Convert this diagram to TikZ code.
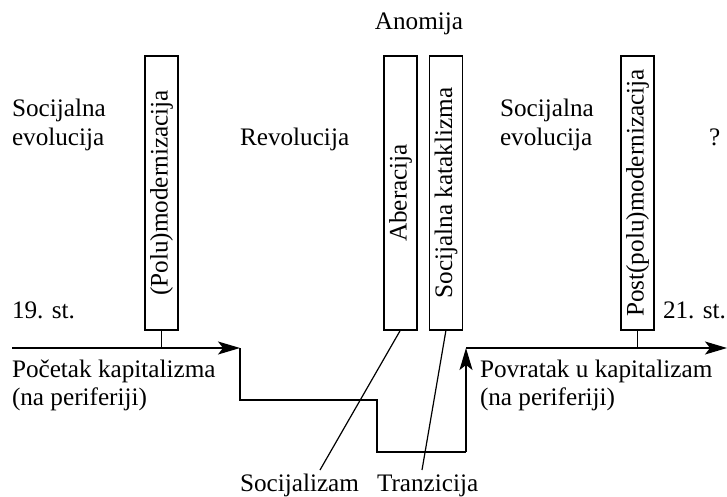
\documentclass[tikz,border=0pt]{standalone}
\usepackage{fontspec}
\setmainfont{Liberation Serif}
\usetikzlibrary{arrows.meta}
\begin{document}
\begin{tikzpicture}[x=0.5pt,y=-0.5pt,
  every node/.style={inner sep=0pt,outer sep=0pt,font=\fontsize{12.6}{14.5}\selectfont},
  lbl/.style={anchor=base west},
  vbox/.style={draw,line width=0.6pt,minimum width=16.5pt,minimum height=137pt},
  ln/.style={line width=0.6pt},
  arr/.style={line width=0.6pt,-{Stealth[length=11pt,width=6.5pt,inset=2.5pt]}}]
\useasboundingbox (0,0) rectangle (727,497);
% boxes
\node[vbox] (b1) at (161.5,193) {\rotatebox{90}{(Polu)modernizacija}};
\node[vbox] (b2) at (400.5,193) {\rotatebox{90}{Aberacija}};
\node[vbox] (b3) at (446,193) {\rotatebox{90}{Socijalna kataklizma}};
\node[vbox] (b4) at (637.5,193) {\rotatebox{90}{Post(polu)modernizacija}};
% labels
\node[anchor=base] (anom) at (419,30) {Anomija};
\node[lbl] (sev1a) at (12,117) {Socijalna};
\node[lbl] (sev1b) at (12,146) {evolucija};
\node[lbl] (rev) at (240,146) {Revolucija};
\node[lbl] (sev2a) at (500,117) {Socijalna};
\node[lbl] (sev2b) at (500,146) {evolucija};
\node[lbl] (q) at (709,146) {?};
\node[lbl] (st19) at (12,318) {19. st.};
\node[anchor=base east] (st21) at (726,318) {21. st.};
\node[lbl] (pk1) at (12,377) {Početak kapitalizma};
\node[lbl] (pk2) at (12,405) {(na periferiji)};
\node[lbl] (pu1) at (480,377) {Povratak u kapitalizam};
\node[lbl] (pu2) at (480,405) {(na periferiji)};
\node[lbl] (soc) at (240,491) {Socijalizam};
\node[lbl] (tra) at (377,491) {Tranzicija};
% axis coordinates
\coordinate (aL) at (12,348);
\coordinate (cL) at (240,348);
\coordinate (d1) at (240,400);
\coordinate (d2) at (377,400);
\coordinate (d3) at (377,452);
\coordinate (d4) at (466,452);
\coordinate (cR) at (466,348);
\coordinate (aR) at (727,348);
\coordinate (e1) at (320,470);
\coordinate (e2) at (422,470);
% connectors
\draw[arr] (aL) -- (cL);
\draw[ln] (cL) -- (d1) -- (d2) -- (d3) -- (d4);
\draw[arr] (d4) -- (cR);
\draw[arr] (cR) -- (aR);
\draw[ln] (b1.south) -- (b1.south |- aL);
\draw[ln] (b4.south) -- (b4.south |- aR);
\draw[ln] (b2.south) -- (e1);
\draw[ln] (b3.south) -- (e2);
\end{tikzpicture}
\end{document}
